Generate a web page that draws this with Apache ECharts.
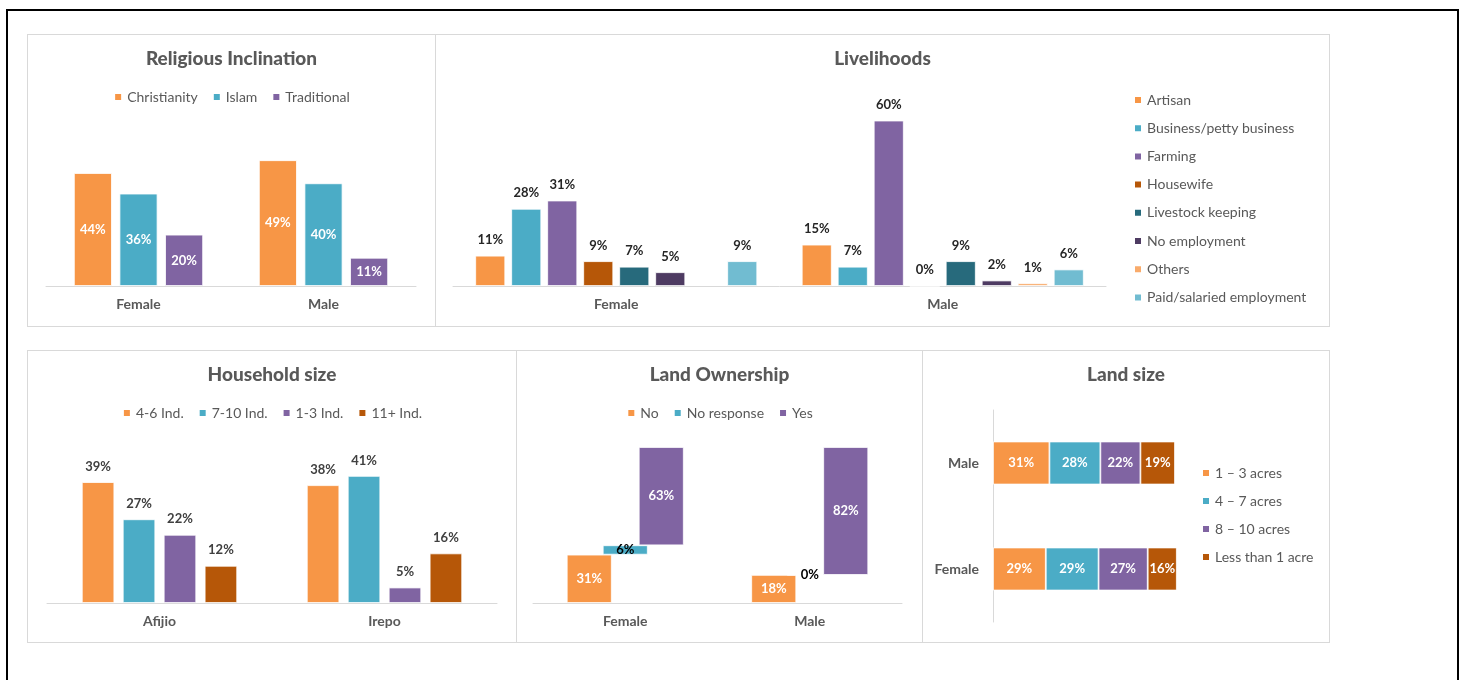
<!DOCTYPE html>
<html>
<head>
<meta charset="utf-8">
<script src="https://cdn.jsdelivr.net/npm/echarts@6/dist/echarts.min.js"></script>
<style>
  body { margin: 0; background: #fff; }
  .frame { position: absolute; left: 6px; top: 9px; width: 1449px; height: 700px; border: 2px solid #000; }
  .panel { position: absolute; box-sizing: border-box; border: 1px solid #d9d9d9; background: #fff; }
</style>
</head>
<body>
<div class="frame"></div>
<div class="panel" id="religion" style="left:27px;top:34px;width:409px;height:293px"></div>
<div class="panel" id="livelihood" style="left:435px;top:34px;width:895px;height:293px"></div>
<div class="panel" id="household" style="left:27px;top:350px;width:490px;height:293px"></div>
<div class="panel" id="ownership" style="left:516px;top:350px;width:407px;height:293px"></div>
<div class="panel" id="landsize" style="left:922px;top:350px;width:408px;height:293px"></div>
<script>
  // religious inclination
  const religionCats = ['Female', 'Male'];
  const christianity = [44, 49];
  const islam = [36, 40];
  const traditional = [20, 11];

  // livelihoods
  const livelihoodCats = ['Female', 'Male'];
  const artisan = [11, 15];
  const business = [28, 7];
  const farming = [31, 60];
  const housewife = [9, 0];
  const livestock = [7, 9];
  const noEmployment = [5, 2];
  const others = [null, 1];
  const paidEmployment = [9, 6];

  // household size
  const householdCats = ['Afijio', 'Irepo'];
  const ind4to6 = [39, 38];
  const ind7to10 = [27, 41];
  const ind1to3 = [22, 5];
  const ind11plus = [12, 16];

  // land ownership
  const ownershipCats = ['Female', 'Male'];
  const ownNo = [31, 18];
  const ownNoResponse = [6, 0];
  const ownYes = [63, 82];

  // land size
  const landCats = ['Female', 'Male'];
  const acres1to3 = [29, 31];
  const acres4to7 = [29, 28];
  const acres8to10 = [27, 22];
  const lessThan1 = [16, 19];

  const FONT = 'Lato';
  const GREY = '#595959';
  const ORANGE = '#F79646', TEAL = '#4BACC6', PURPLE = '#8064A2';
  const BROWN = '#B65708', DARKTEAL = '#276A7C', DARKPURPLE = '#4E3B62';
  const LIGHTORANGE = '#F9AB6B', LIGHTTEAL = '#71BCD1';

  function title(text) {
    return {
      text: text, left: 'center', top: 14, padding: 0,
      textStyle: { fontFamily: FONT, fontSize: 19, fontWeight: 900, color: GREY }
    };
  }

  const legendText = { fontFamily: FONT, fontSize: 14, color: GREY, lineHeight: 14 };

  function topLegend(names) {
    return {
      data: names, left: 'center', top: 55, padding: 0,
      itemWidth: 8, itemHeight: 8, itemGap: 14, icon: 'rect',
      textStyle: legendText
    };
  }

  function catAxis(cats) {
    return {
      type: 'category', data: cats,
      axisLine: { lineStyle: { color: '#d9d9d9', width: 1 } },
      axisTick: { show: false },
      axisLabel: { fontFamily: FONT, fontSize: 14, fontWeight: 'bold', color: GREY, margin: 11 }
    };
  }

  function valAxis(max) {
    return { type: 'value', min: 0, max: max, show: false, splitLine: { show: false } };
  }

  function bar(name, data, color, opts) {
    return Object.assign({
      name: name, type: 'bar', data: data,
      itemStyle: { color: color, borderColor: '#fff', borderWidth: 0.8 }
    }, opts);
  }

  const insideLabel = {
    show: true, position: 'inside', formatter: '{c}%',
    fontFamily: FONT, fontSize: 13, fontWeight: 'bold', color: '#fff'
  };
  function topLabel(color) {
    return {
      show: true, position: 'top', distance: 9, formatter: '{c}%',
      fontFamily: FONT, fontSize: 13, fontWeight: 'bold', color: color
    };
  }

  // ---- Religious Inclination
  const religionChart = echarts.init(document.getElementById('religion'));
  religionChart.setOption({
    animation: false,
    title: title('Religious Inclination'),
    legend: topLegend(['Christianity', 'Islam', 'Traditional']),
    grid: { left: 18, right: 19, top: 97, bottom: 40 },
    xAxis: catAxis(religionCats),
    yAxis: valAxis(60),
    series: [
      bar('Christianity', christianity, ORANGE, { barWidth: 38, barGap: '20%', label: insideLabel }),
      bar('Islam', islam, TEAL, { barWidth: 38, barGap: '20%', label: insideLabel }),
      bar('Traditional', traditional, PURPLE, { barWidth: 38, barGap: '20%', label: insideLabel })
    ]
  });

  // ---- Livelihoods
  const livelihoodChart = echarts.init(document.getElementById('livelihood'));
  const livelihoodSeries = [
    ['Artisan', artisan, ORANGE],
    ['Business/petty business', business, TEAL],
    ['Farming', farming, PURPLE],
    ['Housewife', housewife, BROWN],
    ['Livestock keeping', livestock, DARKTEAL],
    ['No employment', noEmployment, DARKPURPLE],
    ['Others', others, LIGHTORANGE],
    ['Paid/salaried employment', paidEmployment, LIGHTTEAL]
  ];
  livelihoodChart.setOption({
    animation: false,
    title: title('Livelihoods'),
    legend: {
      data: livelihoodSeries.map(s => s[0]),
      orient: 'vertical', left: 697, top: 58, padding: 0,
      itemWidth: 8, itemHeight: 8, itemGap: 14.2, icon: 'rect',
      textStyle: legendText
    },
    grid: { left: 17, right: 223, top: 58, bottom: 40 },
    xAxis: catAxis(livelihoodCats),
    yAxis: valAxis(70),
    series: livelihoodSeries.map(s => bar(s[0], s[1], s[2], {
      barWidth: 30, barGap: '20%', label: topLabel('#262626')
    }))
  });

  // ---- Household size
  const householdChart = echarts.init(document.getElementById('household'));
  const hhLabel = topLabel('#404040');
  householdChart.setOption({
    animation: false,
    title: title('Household size'),
    legend: topLegend(['4-6 Ind.', '7-10 Ind.', '1-3 Ind.', '11+ Ind.']),
    grid: { left: 19, right: 19, top: 97, bottom: 39 },
    xAxis: catAxis(householdCats),
    yAxis: valAxis(50),
    series: [
      bar('4-6 Ind.', ind4to6, ORANGE, { barWidth: 32.5, barGap: '26%', label: hhLabel }),
      bar('7-10 Ind.', ind7to10, TEAL, { barWidth: 32.5, barGap: '26%', label: hhLabel }),
      bar('1-3 Ind.', ind1to3, PURPLE, { barWidth: 32.5, barGap: '26%', label: hhLabel }),
      bar('11+ Ind.', ind11plus, BROWN, { barWidth: 32.5, barGap: '26%', label: hhLabel })
    ]
  });

  // ---- Land Ownership (waterfall style: invisible base + visible step, one stack per status)
  const ownershipChart = echarts.init(document.getElementById('ownership'));
  const baseNoResp = ownNo.slice();
  const baseYes = ownNo.map((v, i) => v + ownNoResponse[i]);
  const ghost = { color: 'transparent', borderColor: 'transparent', borderWidth: 0 };
  ownershipChart.setOption({
    animation: false,
    title: title('Land Ownership'),
    legend: topLegend(['No', 'No response', 'Yes']),
    grid: { left: 16, right: 20, top: 96, bottom: 39 },
    xAxis: catAxis(ownershipCats),
    yAxis: valAxis(100),
    series: [
      { name: 'baseNo', type: 'bar', stack: 'no', data: ownNo.map(() => 0), itemStyle: ghost, barWidth: 45, barGap: '-20%', silent: true },
      bar('No', ownNo, ORANGE, { stack: 'no', barWidth: 45, barGap: '-20%', label: insideLabel }),
      { name: 'baseNoResp', type: 'bar', stack: 'noresp', data: baseNoResp, itemStyle: ghost, barWidth: 45, barGap: '-20%', silent: true },
      bar('No response', ownNoResponse, TEAL, {
        stack: 'noresp', barWidth: 45, barGap: '-20%',
        label: Object.assign({}, insideLabel, { color: '#000' })
      }),
      { name: 'baseYes', type: 'bar', stack: 'yes', data: baseYes, itemStyle: ghost, barWidth: 45, barGap: '-20%', silent: true },
      bar('Yes', ownYes, PURPLE, { stack: 'yes', barWidth: 45, barGap: '-20%', label: insideLabel })
    ]
  });

  // ---- Land size (horizontal stacked)
  const landChart = echarts.init(document.getElementById('landsize'));
  const landSeries = [
    ['1 \u2013 3 acres', acres1to3, ORANGE],
    ['4 \u2013 7 acres', acres4to7, TEAL],
    ['8 \u2013 10 acres', acres8to10, PURPLE],
    ['Less than 1 acre', lessThan1, BROWN]
  ];
  landChart.setOption({
    animation: false,
    title: title('Land size'),
    legend: {
      data: landSeries.map(s => s[0]),
      orient: 'vertical', left: 278, top: 115, padding: 0,
      itemWidth: 8, itemHeight: 8, itemGap: 14, icon: 'rect',
      textStyle: legendText
    },
    grid: { left: 70, top: 59, bottom: 20, width: 182 },
    xAxis: { type: 'value', min: 0, max: 100, show: false, splitLine: { show: false } },
    yAxis: {
      type: 'category', data: landCats,
      axisLine: { lineStyle: { color: '#d9d9d9', width: 1 } },
      axisTick: { show: false },
      axisLabel: { fontFamily: FONT, fontSize: 14, fontWeight: 'bold', color: GREY, margin: 14 }
    },
    series: landSeries.map(s => bar(s[0], s[1], s[2], {
      stack: 'total', barWidth: 43, clip: false, label: insideLabel
    }))
  });
</script>
</body>
</html>
